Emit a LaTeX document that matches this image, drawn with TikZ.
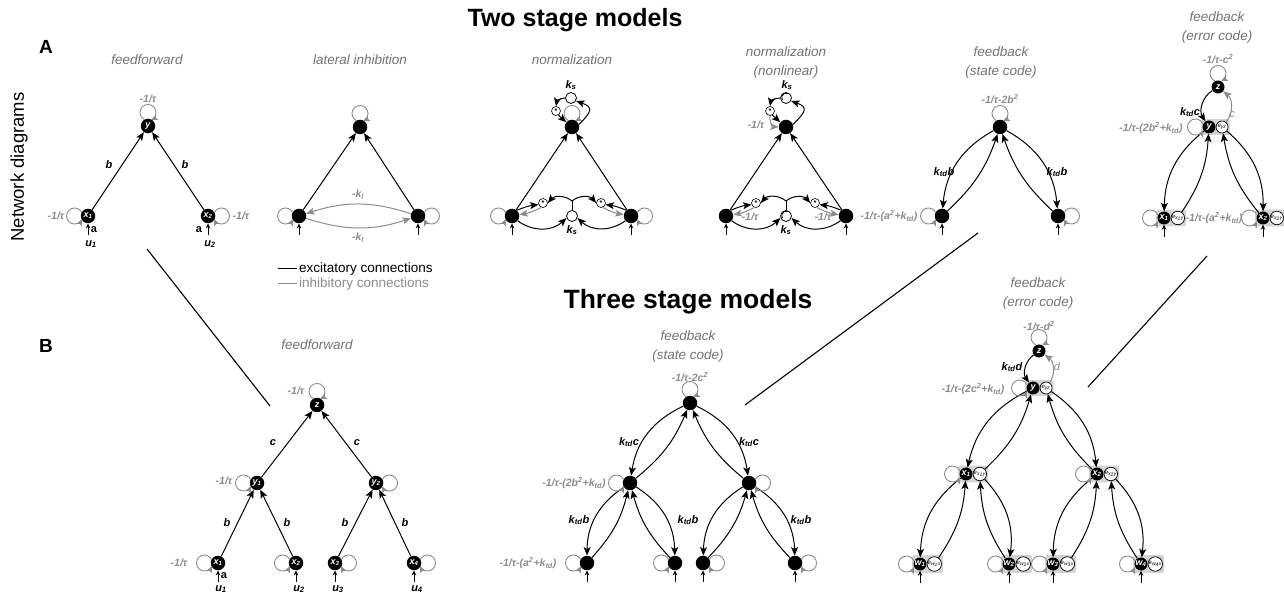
\documentclass[tikz,border=0pt]{standalone}
\usepackage{fontspec}
\setmainfont{Liberation Sans}
\usetikzlibrary{arrows.meta,positioning,fit,backgrounds}

\definecolor{inhgray}{gray}{0.55}
\definecolor{titlegray}{gray}{0.45}
\definecolor{boxgray}{gray}{0.83}

% gray self connection on one side of a unit
\newcommand{\loopup}[1]{\draw[selfloop] ([shift={(0,13.5)}]#1.center) ++(246:8) arc[start angle=246,end angle=-66,radius=8];}
\newcommand{\loopleft}[1]{\draw[selfloop] ([shift={(-13.5,0)}]#1.center) ++(24:8) arc[start angle=24,end angle=336,radius=8];}
\newcommand{\loopright}[1]{\draw[selfloop] ([shift={(13.5,0)}]#1.center) ++(156:8) arc[start angle=156,end angle=-156,radius=8];}
% input from below
\newcommand{\feedin}[1]{\draw[feed] ([yshift=-19]#1.center) -- (#1.south);}

\begin{document}
\begin{tikzpicture}[x=1pt,y=1pt,
  unit/.style={circle,fill=black,minimum size=14.5pt,inner sep=0pt,text=white,font=\fontsize{9}{9}\selectfont\bfseries\itshape},
  sunit/.style={unit,minimum size=13pt},
  err/.style={circle,draw=black,line width=0.7pt,fill=white,minimum size=12pt,inner sep=0pt,font=\fontsize{6}{6}\selectfont\itshape},
  ebox/.style={fill=boxgray,rounded corners=2pt,inner sep=1.2pt},
  pool/.style={circle,draw=black,line width=0.8pt,fill=white,minimum size=11pt,inner sep=0pt},
  nlpool/.style={pool,path picture={\draw[line width=0.7pt] ([shift={(1.5,4.5)}]path picture bounding box.center) arc[start angle=70,end angle=220,radius=4.2];}},
  mult/.style={circle,draw=black,line width=0.6pt,fill=white,minimum size=9pt,inner sep=0pt,font=\fontsize{7}{7}\selectfont\bfseries},
  exc/.style={line width=1pt,-{Stealth[length=8.5pt,width=7pt,inset=2pt]}},
  inh/.style={exc,draw=inhgray},
  selfloop/.style={draw=inhgray,line width=0.9pt,-{Stealth[length=6.5pt,width=6pt,inset=1.5pt]}},
  feed/.style={line width=0.8pt,-{Stealth[length=5pt,width=4.5pt]}},
  lab/.style={font=\fontsize{11}{11}\selectfont\bfseries\itshape},
  alab/.style={font=\fontsize{11}{11}\selectfont\bfseries},
  taulab/.style={text=inhgray,font=\fontsize{10.5}{11}\selectfont\bfseries\itshape},
  paneltitle/.style={text=titlegray,align=center,font=\fontsize{13.5}{19}\selectfont\itshape},
  stagehead/.style={font=\fontsize{25}{28}\selectfont\bfseries},
  panel/.style={font=\fontsize{19}{20}\selectfont\bfseries},
  legend/.style={inner sep=0pt,anchor=west,font=\fontsize{13.5}{14}\selectfont}]

\useasboundingbox (0,0) rectangle (1284,594);

% headings
\node[stagehead] (twohead) at (575,574) {Two stage models};
\node[stagehead,font=\fontsize{26.5}{28}\selectfont\bfseries] (threehead) at (688,292) {Three stage models};
\node[panel] (pa) at (46,547) {A};
\node[panel] (pb) at (46,248) {B};
\node[rotate=90,font=\fontsize{18.5}{20}\selectfont] (netlab) at (19,427) {Network diagrams};

%%% two stage: feedforward
\node[paneltitle] at (147,534) {feedforward};
\node[unit] (ffy) at (148,468) {y};
\node[unit] (ffx1) at (88,378) {x\textsubscript{1}};
\node[unit] (ffx2) at (208,378) {x\textsubscript{2}};
\draw[exc] (ffx1) -- (ffy);
\draw[exc] (ffx2) -- (ffy);
\node[lab] at (109,429) {b};
\node[lab] at (185,429) {b};
\loopup{ffy} \loopleft{ffx1} \loopright{ffx2}
\node[taulab] at (148,495) {-1/τ};
\node[taulab] at (56,378) {-1/τ};
\node[taulab] at (241,378) {-1/τ};
\feedin{ffx1} \feedin{ffx2}
\node[alab] at (94,364) {a};
\node[alab] at (199,364) {a};
\node[lab] at (91,350) {u\textsubscript{1}};
\node[lab] at (210,350) {u\textsubscript{2}};

%%% two stage: lateral inhibition
\node[paneltitle] at (360,534) {lateral inhibition};
\node[unit] (lit) at (360,467) {};
\node[unit] (lil) at (299,378) {};
\node[unit] (lir) at (418,378) {};
\draw[exc] (lil) -- (lit);
\draw[exc] (lir) -- (lit);
\draw[inh] (lir) to[bend right=18] (lil);
\draw[inh] (lil) to[bend right=18] (lir);
\node[taulab] at (358,399) {-k\textsubscript{l}};
\node[taulab] at (358,356) {-k\textsubscript{l}};
\loopup{lit} \loopleft{lil} \loopright{lir}
\feedin{lil} \feedin{lir}
% legend
\node[legend] (exlab) at (299,325) {excitatory connections};
\node[legend,text=inhgray] (inlab) at (299,310) {inhibitory connections};
\draw[line width=1pt] ([xshift=-21]exlab.west) -- ([xshift=-2]exlab.west);
\draw[line width=1pt,inhgray] ([xshift=-21]inlab.west) -- ([xshift=-2]inlab.west);

%%% two stage: normalization
\node[paneltitle] at (572,534) {normalization};
\node[unit] (nmt) at (572,467) {};
\node[pool] (nmks) at (571,496) {};
\node[lab] at (571,509) {k\textsubscript{s}};
\node[mult] (nmmul) at (556,483) {*};
\node[unit] (nml) at (512,378) {};
\node[unit] (nmr) at (631,378) {};
\node[pool] (nmkb) at (572,378) {};
\node[lab] at (572,364) {k\textsubscript{s}};
\node[mult] (nmml) at (543,391) {*};
\node[mult] (nmmr) at (601,391) {*};
\coordinate (nmj) at (572,393);
\draw[exc] (nml) -- (nmt);
\draw[exc] (nmr) -- (nmt);
\draw[exc] (nml.50) to[bend left=8] (nmml.200);
\draw[inh] (nmml.250) to[bend left=8] (nml.10);
\draw[exc] (nml.-40) to[bend right=40] (nmkb.200);
\draw[exc] (nmr.130) to[bend right=8] (nmmr.-20);
\draw[inh] (nmmr.-70) to[bend right=8] (nmr.170);
\draw[exc] (nmr.220) to[bend left=40] (nmkb.-20);
\draw[line width=1pt] (nmkb.north) -- (nmj);
\draw[exc] (nmj) to[bend right=45] (nmml.east);
\draw[exc] (nmj) to[bend left=45] (nmmr.west);
\draw[exc] (nmt.20) to[out=45,in=-20,looseness=2] (nmks.-30);
\draw[exc] (nmks.west) to[out=180,in=80] (nmmul.north);
\draw[exc] (nmmul.-60) -- (nmt.140);
\loopup{nmt} \loopleft{nml} \loopright{nmr}
\feedin{nml} \feedin{nmr}

%%% two stage: normalization (nonlinear)
\node[paneltitle] at (786,531) {normalization\\(nonlinear)};
\node[unit] (nnt) at (786,467) {};
\node[nlpool] (nnks) at (786,496) {};
\node[lab] at (787,509) {k\textsubscript{s}};
\node[mult] (nnmul) at (770,483) {*};
\node[unit] (nnl) at (726,378) {};
\node[unit] (nnr) at (846,378) {};
\node[nlpool] (nnkb) at (786,378) {};
\node[lab] at (786,364) {k\textsubscript{s}};
\node[mult] (nnml) at (756,391) {*};
\node[mult] (nnmr) at (815,391) {*};
\coordinate (nnj) at (786,393);
\draw[exc] (nnl) -- (nnt);
\draw[exc] (nnr) -- (nnt);
\draw[exc] (nnl.50) to[bend left=8] (nnml.200);
\draw[inh] (nnml.250) to[bend left=8] (nnl.10);
\draw[exc] (nnl.-40) to[bend right=40] (nnkb.200);
\draw[exc] (nnr.130) to[bend right=8] (nnmr.-20);
\draw[inh] (nnmr.-70) to[bend right=8] (nnr.170);
\draw[exc] (nnr.220) to[bend left=40] (nnkb.-20);
\draw[line width=1pt] (nnkb.north) -- (nnj);
\draw[exc] (nnj) to[bend right=45] (nnml.east);
\draw[exc] (nnj) to[bend left=45] (nnmr.west);
\draw[exc] (nnt.20) to[out=45,in=-20,looseness=2] (nnks.-30);
\draw[exc] (nnks.west) to[out=180,in=80] (nnmul.north);
\draw[exc] (nnmul.-60) -- (nnt.140);
\draw[inh] (nnmul.south) to[bend right=50] (nnt.west);
\node[taulab] at (756,469) {-1/τ};
\node[taulab] at (750,377) {-1/τ};
\node[taulab] at (823,377) {-1/τ};
\feedin{nnl} \feedin{nnr}

%%% two stage: feedback, state code
\node[paneltitle] at (1001,531) {feedback\\(state code)};
\node[unit] (fst) at (1000,467) {};
\node[unit] (fsl) at (942,378) {};
\node[unit] (fsr) at (1058,378) {};
\draw[exc] (fst) to[bend right=28] (fsl);
\draw[exc] (fsl) to[bend right=14] (fst);
\draw[exc] (fst) to[bend left=28] (fsr);
\draw[exc] (fsr) to[bend left=14] (fst);
\node[lab] at (944,422) {k\textsubscript{td}b};
\node[lab] at (1057,422) {k\textsubscript{td}b};
\loopup{fst} \loopleft{fsl} \loopright{fsr}
\feedin{fsl} \feedin{fsr}
\node[taulab] at (1000,495) {-1/τ-2b\textsuperscript{2}};
\node[taulab] at (889,378) {-1/τ-(a\textsuperscript{2}+k\textsubscript{td})};

%%% two stage: feedback, error code
\node[paneltitle] at (1217,566) {feedback\\(error code)};
\node[sunit] (fez) at (1218,507) {z};
\node[sunit] (fey) at (1209,467) {y};
\node[err,right=0pt of fey] (feey) {e\textsubscript{yz}};
\node[sunit] (fex1) at (1164,376) {x\textsubscript{1}};
\node[err,right=0pt of fex1] (feex1) {e\textsubscript{x\textsubscript{1}y}};
\node[sunit] (fex2) at (1263,376) {x\textsubscript{2}};
\node[err,right=0pt of fex2] (feex2) {e\textsubscript{x\textsubscript{2}y}};
\begin{scope}[on background layer]
  \node[ebox,fit=(fey)(feey)] {};
  \node[ebox,fit=(fex1)(feex1)] {};
  \node[ebox,fit=(fex2)(feex2)] {};
\end{scope}
\draw[exc] (fez) to[bend right=45] (fey);
\draw[inh] (feey) to[bend right=45] (fez);
\node[lab] at (1190,482) {k\textsubscript{td}c};
\node[taulab,font=\fontsize{11}{11}\selectfont\itshape] at (1232,479) {c};
\draw[exc] (fey) to[bend right=25] (fex1);
\draw[exc] (feex1) to[bend right=15] (fey);
\draw[exc] (feey) to[bend left=25] (fex2);
\draw[exc] (fex2) to[bend left=15] (feey);
\loopup{fez} \loopleft{fey} \loopleft{fex1} \loopleft{fex2}
\feedin{fex1} \feedin{fex2}
\node[taulab] at (1218,535) {-1/τ-c\textsuperscript{2}};
\node[taulab] at (1151,466) {-1/τ-(2b\textsuperscript{2}+k\textsubscript{td})};
\node[taulab] at (1214,376) {-1/τ-(a\textsuperscript{2}+k\textsubscript{td})};

%%% three stage: feedforward
\node[paneltitle] at (317,249) {feedforward};
\node[unit] (bfz) at (317,189) {z};
\node[unit] (bfy1) at (257,111) {y\textsubscript{1}};
\node[unit] (bfy2) at (376,111) {y\textsubscript{2}};
\node[unit] (bfx1) at (218,31) {x\textsubscript{1}};
\node[unit] (bfx2) at (296,31) {x\textsubscript{2}};
\node[unit] (bfx3) at (335,31) {x\textsubscript{3}};
\node[unit] (bfx4) at (414,31) {x\textsubscript{4}};
\draw[exc] (bfy1) -- (bfz);
\draw[exc] (bfy2) -- (bfz);
\draw[exc] (bfx1) -- (bfy1);
\draw[exc] (bfx2) -- (bfy1);
\draw[exc] (bfx3) -- (bfy2);
\draw[exc] (bfx4) -- (bfy2);
\node[lab] at (273,151) {c};
\node[lab] at (357,151) {c};
\node[lab] at (227,71) {b};
\node[lab] at (287,71) {b};
\node[lab] at (345,71) {b};
\node[lab] at (405,71) {b};
\loopup{bfz} \loopleft{bfy1} \loopright{bfy2}
\loopleft{bfx1} \loopleft{bfx2} \loopright{bfx3} \loopright{bfx4}
\node[taulab] at (296,203) {-1/τ};
\node[taulab] at (224,113) {-1/τ};
\node[taulab] at (179,31) {-1/τ};
\feedin{bfx1} \feedin{bfx2} \feedin{bfx3} \feedin{bfx4}
\node[alab] at (224,18) {a};
\node[lab] at (221,5) {u\textsubscript{1}};
\node[lab] at (299,5) {u\textsubscript{2}};
\node[lab] at (338,5) {u\textsubscript{3}};
\node[lab] at (417,5) {u\textsubscript{4}};

%%% three stage: feedback, state code
\node[paneltitle] at (688,247) {feedback\\(state code)};
\node[unit] (bst) at (690,191) {};
\node[unit] (bsl) at (630,111) {};
\node[unit] (bsr) at (749,111) {};
\node[unit] (bs1) at (587,31) {};
\node[unit] (bs2) at (675,31) {};
\node[unit] (bs3) at (703,31) {};
\node[unit] (bs4) at (795,31) {};
\draw[exc] (bst) to[bend right=28] (bsl);
\draw[exc] (bsl) to[bend right=14] (bst);
\draw[exc] (bst) to[bend left=28] (bsr);
\draw[exc] (bsr) to[bend left=14] (bst);
\draw[exc] (bsl) to[bend right=28] (bs1);
\draw[exc] (bs1) to[bend right=14] (bsl);
\draw[exc] (bsl) to[bend left=28] (bs2);
\draw[exc] (bs2) to[bend left=14] (bsl);
\draw[exc] (bsr) to[bend right=28] (bs3);
\draw[exc] (bs3) to[bend right=14] (bsr);
\draw[exc] (bsr) to[bend left=28] (bs4);
\draw[exc] (bs4) to[bend left=14] (bsr);
\node[lab] at (629,152) {k\textsubscript{td}c};
\node[lab] at (749,152) {k\textsubscript{td}c};
\node[lab] at (579,74) {k\textsubscript{td}b};
\node[lab] at (688,74) {k\textsubscript{td}b};
\node[lab] at (801,74) {k\textsubscript{td}b};
\loopup{bst} \loopleft{bsl} \loopright{bsr}
\loopleft{bs1} \loopleft{bs2} \loopright{bs3} \loopright{bs4}
\feedin{bs1} \feedin{bs2} \feedin{bs3} \feedin{bs4}
\node[taulab] at (690,217) {-1/τ-2c\textsuperscript{2}};
\node[taulab] at (574,111) {-1/τ-(2b\textsuperscript{2}+k\textsubscript{td})};
\node[taulab] at (528,31) {-1/τ-(a\textsuperscript{2}+k\textsubscript{td})};

%%% three stage: feedback, error code
\node[paneltitle] at (1038,300) {feedback\\(error code)};
\node[sunit] (bez) at (1039,243) {z};
\node[sunit] (bey) at (1033,206) {y};
\node[err,right=0pt of bey] (beey) {e\textsubscript{yz}};
\node[sunit] (bex1) at (966,120) {x\textsubscript{1}};
\node[err,right=0pt of bex1] (beex1) {e\textsubscript{x\textsubscript{1}y}};
\node[sunit] (bex2) at (1097,120) {x\textsubscript{2}};
\node[err,right=0pt of bex2] (beex2) {e\textsubscript{x\textsubscript{2}y}};
\node[sunit] (bew1) at (920,30) {w\textsubscript{1}};
\node[err,right=0pt of bew1] (beew1) {e\textsubscript{w\textsubscript{1}x}};
\node[sunit] (bew2) at (1009,30) {w\textsubscript{2}};
\node[err,right=0pt of bew2] (beew2) {e\textsubscript{w\textsubscript{2}x}};
\node[sunit] (bew3) at (1053,30) {w\textsubscript{3}};
\node[err,right=0pt of bew3] (beew3) {e\textsubscript{w\textsubscript{3}x}};
\node[sunit] (bew4) at (1141,30) {w\textsubscript{4}};
\node[err,right=0pt of bew4] (beew4) {e\textsubscript{w\textsubscript{4}x}};
\begin{scope}[on background layer]
  \node[ebox,fit=(bey)(beey)] {};
  \node[ebox,fit=(bex1)(beex1)] {};
  \node[ebox,fit=(bex2)(beex2)] {};
  \node[ebox,fit=(bew1)(beew1)] {};
  \node[ebox,fit=(bew2)(beew2)] {};
  \node[ebox,fit=(bew3)(beew3)] {};
  \node[ebox,fit=(bew4)(beew4)] {};
\end{scope}
\draw[exc] (bez) to[bend right=45] (bey);
\draw[inh] (beey) to[bend right=45] (bez);
\node[lab] at (1012,227) {k\textsubscript{td}d};
\node[taulab,font=\fontsize{11}{11}\selectfont\itshape] at (1057,227) {d};
\draw[exc] (bey) to[bend right=25] (bex1);
\draw[exc] (beex1) to[bend right=15] (bey);
\draw[exc] (beey) to[bend left=25] (bex2);
\draw[exc] (bex2) to[bend left=15] (beey);
\draw[exc] (bex1) to[bend right=25] (bew1);
\draw[exc] (beew1) to[bend right=15] (bex1);
\draw[exc] (beex1) to[bend left=25] (bew2);
\draw[exc] (bew2) to[bend left=15] (beex1);
\draw[exc] (bex2) to[bend right=25] (bew3);
\draw[exc] (beew3) to[bend right=15] (bex2);
\draw[exc] (beex2) to[bend left=25] (bew4);
\draw[exc] (bew4) to[bend left=15] (beex2);
\loopup{bez} \loopleft{bey} \loopleft{bex1} \loopleft{bex2}
\loopleft{bew1} \loopleft{bew2} \loopleft{bew3} \loopleft{bew4}
\feedin{bew1} \feedin{bew2} \feedin{bew3} \feedin{bew4}
\node[taulab] at (1039,268) {-1/τ-d\textsuperscript{2}};
\node[taulab] at (973,205) {-1/τ-(2c\textsuperscript{2}+k\textsubscript{td})};

% links from two stage to three stage models
\coordinate (lka1) at (147,345);
\coordinate (lka2) at (270,188);
\coordinate (lkb1) at (978,361);
\coordinate (lkb2) at (745,189);
\coordinate (lkc1) at (1207,338);
\coordinate (lkc2) at (1088,207);
\draw[line width=1.1pt] (lka1) -- (lka2);
\draw[line width=1.1pt] (lkb1) -- (lkb2);
\draw[line width=1.1pt] (lkc1) -- (lkc2);
\end{tikzpicture}
\end{document}
